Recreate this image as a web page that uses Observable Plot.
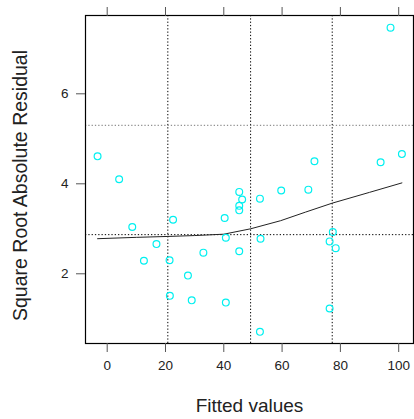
<!DOCTYPE html>
<html>
<head>
<meta charset="utf-8">
<script src="https://cdn.jsdelivr.net/npm/d3@7"></script>
<script src="https://cdn.jsdelivr.net/npm/@observablehq/plot@0.6"></script>
<style>
  html, body { margin: 0; padding: 0; background: #fff; }
  #chart svg { display: block; font-family: "Liberation Sans", Arial, Helvetica, sans-serif; }
</style>
</head>
<body>
<div id="chart"></div>
<script>
// Fitted values and square-root absolute residuals
const fitted = [-3.3, 4.1, 8.6, 12.6, 16.9, 21.4, 21.5, 22.6, 27.7, 29.0, 33.0, 40.3, 40.7, 40.7,
  45.3, 46.3, 45.3, 45.3, 45.3, 52.4, 52.6, 52.4, 59.7, 69.0, 71.1, 76.3, 76.3, 77.4, 78.4, 93.8, 101.1, 97.2];
const sqrtAbsResid = [4.61, 4.10, 3.04, 2.29, 2.66, 2.30, 1.51, 3.20, 1.96, 1.41, 2.47, 3.24, 2.80, 1.36,
  3.82, 3.65, 3.51, 3.41, 2.50, 3.67, 2.78, 0.71, 3.85, 3.87, 4.50, 2.72, 1.23, 2.93, 2.57, 4.48, 4.66, 7.47];

// Smoothed trend
const smoothX = [-3.3, 10, 20.8, 30, 40, 49.2, 59.5, 68, 77.2, 90, 101.1];
const smoothY = [2.78, 2.81, 2.83, 2.85, 2.88, 3.00, 3.18, 3.37, 3.57, 3.81, 4.02];

// Reference lines
const refX = [20.8, 49.2, 77.2];
const refYMain = [2.87];
const refYUpper = [5.30];

const xTicks = [0, 20, 40, 60, 80, 100];
const yTicks = [2, 4, 6];

const points = fitted.map((x, i) => ({x, y: sqrtAbsResid[i]}));
const smooth = smoothX.map((x, i) => ({x, y: smoothY[i]}));

const chart = Plot.plot({
  width: 414,
  height: 419,
  marginLeft: 85,
  marginRight: 1,
  marginTop: 15,
  marginBottom: 76,
  style: {fontFamily: '"Liberation Sans", Arial, Helvetica, sans-serif', background: "#fff"},
  x: {domain: [-7.44, 105.08]},
  y: {domain: [0.451, 7.74]},
  marks: [
    Plot.ruleX(refX, {stroke: "#000", strokeDasharray: "1.3,2", strokeWidth: 1}),
    Plot.ruleY(refYMain, {stroke: "#000", strokeDasharray: "1.3,2", strokeWidth: 1}),
    Plot.ruleY(refYUpper, {stroke: "#777", strokeDasharray: "1.3,2", strokeWidth: 1}),
    Plot.line(smooth, {x: "x", y: "y", stroke: "#222", strokeWidth: 1}),
    Plot.dot(points, {x: "x", y: "y", r: 3.4, stroke: "#00f0f0", strokeWidth: 1.2, fill: "none"}),
    Plot.frame({stroke: "#000", strokeWidth: 1.2}),
    Plot.axisX(xTicks, {anchor: "bottom", tickSize: 9, tickPadding: 8, fontSize: 13.5, stroke: "#555", fill: "#222", label: null}),
    Plot.axisX(xTicks, {anchor: "top", tickSize: 9, tickFormat: () => "", stroke: "#555", label: null}),
    Plot.axisY(yTicks, {anchor: "left", tickSize: 9, tickPadding: 8, fontSize: 13.5, stroke: "#555", fill: "#222", label: null}),
    Plot.axisY(yTicks, {anchor: "right", tickSize: 9, tickFormat: () => "", stroke: "#555", label: null}),
    Plot.text(["Fitted values"], {frameAnchor: "bottom", textAnchor: "middle", dy: 68, fontSize: 19, fill: "#222"}),
    Plot.text(["Square Root Absolute Residual"], {frameAnchor: "left", textAnchor: "middle", dx: -65, dy: 6, rotate: -90, fontSize: 19.5, fill: "#222"})
  ]
});
document.getElementById("chart").appendChild(chart);
</script>
</body>
</html>
